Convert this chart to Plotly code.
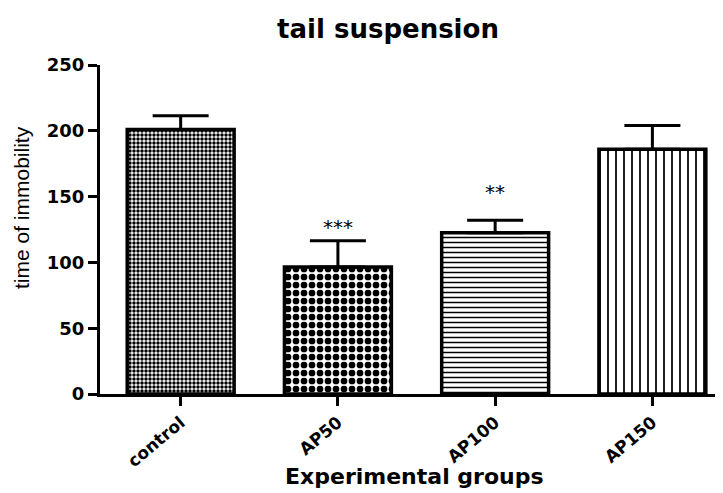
import plotly.graph_objects as go

groups = ["control", "AP50", "AP100", "AP150"]
means = [201, 96.5, 122.5, 186]
sems = [10.5, 20, 9.5, 18]
stars = ["", "***", "**", ""]

pattern_shapes = [".", ".", "-", "|"]
pattern_sizes = [4, 8, 5, 8]
pattern_solidity = [0.6, 0.55, 0.3, 0.22]
star_shift = [0, 14, 28, 0]

# page body has an 8px margin; figure sized to fill the rest of the window
W, H = 715, 485
L, R, T, B = 92, 3, 57, 99

fig = go.Figure()
fig.add_trace(go.Bar(
    x=groups, y=means, width=0.68,
    marker=dict(
        color="white",
        line=dict(color="black", width=3.5),
        pattern=dict(shape=pattern_shapes, size=pattern_sizes,
                     solidity=pattern_solidity, fgcolor="black",
                     bgcolor="white", fgopacity=1, fillmode="replace"),
    ),
    error_y=dict(type="data", array=sems, arrayminus=[0] * len(sems),
                 symmetric=False, color="black", thickness=3, width=28),
    showlegend=False,
))

for g, m, s, st, sh in zip(groups, means, sems, stars, star_shift):
    if st:
        fig.add_annotation(x=g, y=m + s, text=st, showarrow=False,
                           yanchor="middle", yshift=sh,
                           font=dict(family="DejaVu Sans", size=20, color="black"))

pw = W - L - R
ph = H - T - B
# y-axis title
fig.add_annotation(xref="paper", yref="paper", x=(13 - L) / pw, y=(H - B - 200) / ph,
                   text="time of immobility", textangle=-90, showarrow=False,
                   xanchor="center", yanchor="middle",
                   font=dict(family="Liberation Sans", size=21, color="black"))
# x-axis title
fig.add_annotation(xref="paper", yref="paper", x=(406 - L) / pw, y=(H - B - 468) / ph,
                   text="<b>Experimental groups</b>", showarrow=False,
                   xanchor="center", yanchor="middle",
                   font=dict(family="DejaVu Sans", size=22, color="black"))

fig.update_layout(
    width=W, height=H,
    margin=dict(l=L, r=R, t=T, b=B),
    paper_bgcolor="white", plot_bgcolor="white",
    title=dict(text="<b>tail suspension</b>", x=380 / W, xanchor="center",
               y=1 - 21 / H, yanchor="middle",
               font=dict(family="DejaVu Sans", size=26, color="black")),
)
fig.update_xaxes(
    range=[-0.513, 3.43], showline=True, linecolor="black", linewidth=3,
    ticks="outside", ticklen=9, tickwidth=3, tickcolor="black",
    tickangle=-40, tickfont=dict(family="DejaVu Sans", size=17, color="black", weight="bold"),
    showgrid=False, zeroline=False,
)
fig.update_yaxes(
    range=[0, 250], tickvals=[0, 50, 100, 150, 200, 250],
    showline=True, linecolor="black", linewidth=3,
    ticks="outside", ticklen=9, tickwidth=3, tickcolor="black",
    tickfont=dict(family="DejaVu Sans", size=18, color="black", weight="bold"),
    showgrid=False, zeroline=False,
)

fig.write_html("out.html")
